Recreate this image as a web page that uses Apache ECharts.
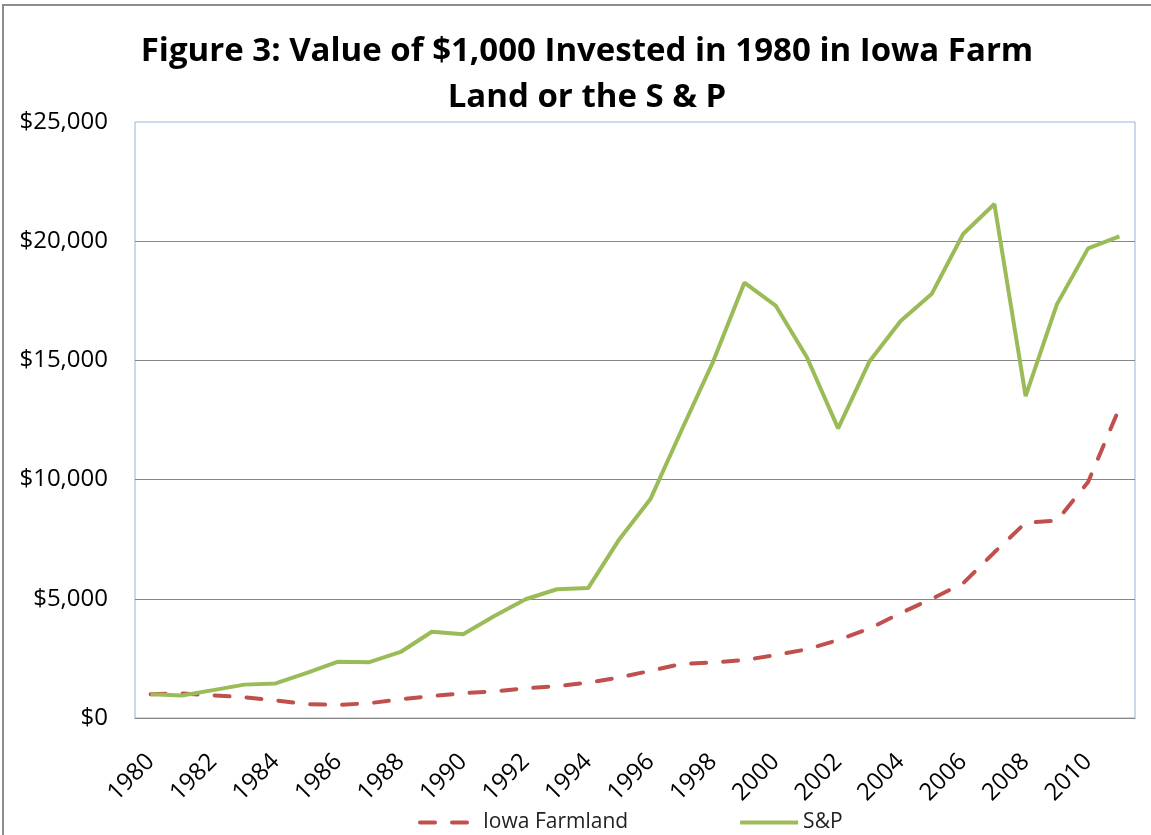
<!DOCTYPE html>
<html>
<head>
<meta charset="utf-8">
<script src="https://cdn.jsdelivr.net/npm/echarts@6/dist/echarts.min.js"></script>
<style>
	html, body { margin: 0; padding: 0; background: #fff; }
	#chart { width: 1151px; height: 835px; }
</style>
</head>
<body>
<div id="chart"></div>
<script>
var years = ['1980', '1981', '1982', '1983', '1984', '1985', '1986', '1987', '1988', '1989',
	'1990', '1991', '1992', '1993', '1994', '1995', '1996', '1997', '1998', '1999',
	'2000', '2001', '2002', '2003', '2004', '2005', '2006', '2007', '2008', '2009',
	'2010', '2011'];

var iowaFarmland = [1000, 1030, 950, 870, 740, 580, 550, 620, 790, 920,
	1040, 1120, 1240, 1340, 1480, 1700, 1980, 2270, 2330, 2430,
	2640, 2880, 3270, 3750, 4400, 5000, 5650, 6950, 8190, 8280,
	9900, 13000];

var sp = [1000, 940, 1170, 1400, 1450, 1890, 2360, 2340, 2770, 3620,
	3510, 4280, 4980, 5400, 5450, 7500, 9200, 12100, 14950, 18260,
	17300, 15130, 12150, 14950, 16650, 17800, 20300, 21560, 13500, 17350,
	19700, 20200];

var seriesNames = ['Iowa Farmland', 'S&P'];

var chart = echarts.init(document.getElementById('chart'));

var option = {
	backgroundColor: '#fff',
	animation: false,
	title: {
		text: 'Figure 3: Value of $1,000 Invested in 1980 in Iowa Farm\nLand or the S & P',
		left: 582,
		top: 24,
		textAlign: 'center',
		textStyle: {
			fontFamily: 'Open Sans',
			fontWeight: 'bold',
			fontSize: 33,
			lineHeight: 46,
			color: '#000'
		}
	},
	graphic: [{
		type: 'rect',
		shape: { x: 3, y: 5, width: 1200, height: 900 },
		style: { fill: 'none', stroke: '#8c8c8c', lineWidth: 2 },
		silent: true
	}],
	legend: {
		left: 413,
		top: 807,
		itemGap: 110,
		itemWidth: 58,
		itemHeight: 14,
		itemStyle: { opacity: 0 },
		lineStyle: { width: 4 },
		textStyle: {
			fontFamily: 'Open Sans',
			fontSize: 21,
			color: '#222'
		},
		data: seriesNames
	},
	grid: {
		left: 135,
		right: 16,
		top: 122,
		bottom: 117,
		show: true,
		borderColor: '#95b3d7',
		borderWidth: 1
	},
	xAxis: {
		type: 'category',
		boundaryGap: true,
		data: years,
		axisLine: { lineStyle: { color: '#868686', width: 1 } },
		axisTick: { show: false },
		axisLabel: {
			interval: 1,
			rotate: 45,
			margin: 40,
			fontFamily: 'Open Sans',
			fontSize: 24,
			color: '#000'
		}
	},
	yAxis: {
		type: 'value',
		min: 0,
		max: 25000,
		interval: 5000,
		axisLine: { show: false },
		axisTick: { show: false },
		splitLine: {
			showMaxLine: false,
			lineStyle: { color: '#868686', width: 1 }
		},
		axisLabel: {
			margin: 27,
			fontFamily: 'Open Sans',
			fontSize: 24,
			color: '#000',
			formatter: function (v) {
				return '$' + v.toLocaleString('en-US');
			}
		}
	},
	series: [{
		name: seriesNames[0],
		type: 'line',
		data: iowaFarmland,
		showSymbol: false,
		symbol: 'none',
		lineStyle: {
			color: '#c0504d',
			width: 4,
			type: [15, 17],
			cap: 'round'
		},
		itemStyle: { color: '#c0504d' }
	}, {
		name: seriesNames[1],
		type: 'line',
		data: sp,
		showSymbol: false,
		symbol: 'none',
		lineStyle: {
			color: '#9bbb59',
			width: 4
		},
		itemStyle: { color: '#9bbb59' }
	}]
};

chart.setOption(option);
</script>
</body>
</html>
